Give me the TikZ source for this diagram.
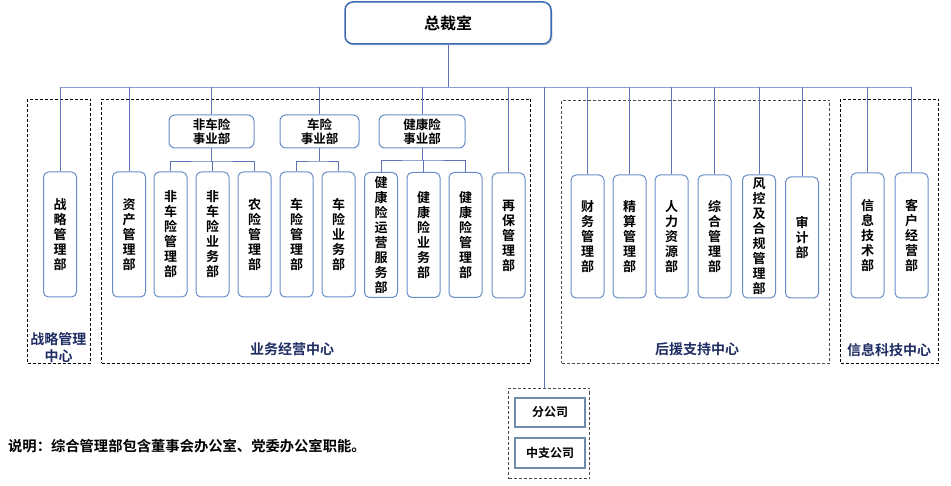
\documentclass[tikz,border=0pt]{standalone}
\usepackage{fontspec}
\setmainfont{Noto Sans CJK SC}[BoldFont={Noto Sans CJK SC Bold}]
\usetikzlibrary{shadows}
\definecolor{bline}{RGB}{95,115,185}
\definecolor{busc}{RGB}{140,160,215}
\definecolor{bbord}{RGB}{105,140,200}
\definecolor{topbord}{RGB}{60,105,180}
\definecolor{navy}{RGB}{31,45,100}
\definecolor{brbord}{RGB}{110,140,170}
\begin{document}
\begin{tikzpicture}[x=1pt,y=-1pt,
  conn/.style={draw=bline, line width=0.8pt},
  vbox/.style={draw=bbord, line width=1pt, rounded corners=5pt, minimum width=33pt, minimum height=125pt, inner sep=0pt, align=center, font=\bfseries\fontsize{13}{15}\selectfont},
  sbox/.style={draw=bbord, line width=1pt, rounded corners=6pt, minimum height=33pt, inner sep=0pt, align=center, font=\bfseries\fontsize{12.5}{14.5}\selectfont},
  topbox/.style={draw=topbord, fill=white, line width=1.5pt, rounded corners=8pt, minimum width=206pt, minimum height=42pt, font=\bfseries\fontsize{16}{18}\selectfont, drop shadow={shadow xshift=1.5pt, shadow yshift=-1.5pt, opacity=0.3}},
  grp/.style={draw=black, dash pattern=on 3pt off 2pt, line width=1pt, anchor=north west, inner sep=0pt},
  lab/.style={text=navy, align=center, font=\bfseries\fontsize{14}{17}\selectfont},
  brbox/.style={draw=brbord, line width=1.5pt, minimum width=70pt, minimum height=29pt, inner sep=0pt, font=\bfseries\fontsize{12}{14}\selectfont}
]
\useasboundingbox (0,0) rectangle (951,486);

% groups
\node[grp, minimum width=63pt, minimum height=264pt] (g1) at (27,99) {};
\node[grp, minimum width=429pt, minimum height=264pt] (g2) at (101,99) {};
\node[grp, draw=black!70, minimum width=268pt, minimum height=263pt] (g3) at (561,100) {};
\node[grp, minimum width=98pt, minimum height=264pt] (g4) at (840,99) {};
\node[grp, draw=black!70, minimum width=81pt, minimum height=90pt] (g5) at (508,388) {};

% top
\node[topbox] (top) at (448,23) {总裁室};

% division heads
\node[sbox, minimum width=85pt] (ex1) at (211.5,131.5) {非车险\\事业部};
\node[sbox, minimum width=79pt] (ex2) at (319.5,131.5) {车险\\事业部};
\node[sbox, minimum width=86pt] (ex3) at (422,131.5) {健康险\\事业部};

% vertical boxes
\node[vbox] (zl) at (60,234.5) {战\\略\\管\\理\\部};
\node[vbox] (zc) at (129,234.5) {资\\产\\管\\理\\部};
\node[vbox] (f1) at (170.5,234.5) {非\\车\\险\\管\\理\\部};
\node[vbox] (f2) at (212.5,234.5) {非\\车\\险\\业\\务\\部};
\node[vbox] (f3) at (254.5,234.5) {农\\险\\管\\理\\部};
\node[vbox] (c1) at (296.5,234.5) {车\\险\\管\\理\\部};
\node[vbox] (c2) at (338.5,234.5) {车\\险\\业\\务\\部};
\node[vbox] (h1) at (381,235) {健\\康\\险\\运\\营\\服\\务\\部};
\node[vbox] (h2) at (423.5,235) {健\\康\\险\\业\\务\\部};
\node[vbox] (h3) at (465.5,235) {健\\康\\险\\管\\理\\部};
\node[vbox] (zb) at (508.5,235.5) {再\\保\\管\\理\\部};

\node[vbox, minimum height=123pt] (cw) at (587.5,236.5) {财\\务\\管\\理\\部};
\node[vbox, minimum height=123pt] (js) at (629.5,236.5) {精\\算\\管\\理\\部};
\node[vbox, minimum height=123pt] (rl) at (671.5,236.5) {人\\力\\资\\源\\部};
\node[vbox, minimum height=123pt] (zh) at (714.5,236.5) {综\\合\\管\\理\\部};
\node[vbox, minimum height=123pt] (fk) at (759,236.5) {风\\控\\及\\合\\规\\管\\理\\部};
\node[vbox, minimum height=121pt] (sj) at (802,237.5) {审\\计\\部};

\node[vbox] (xx) at (867.5,235.5) {信\\息\\技\\术\\部};
\node[vbox] (kh) at (911.5,235.5) {客\\户\\经\\营\\部};

% branch boxes
\node[brbox] (fgs) at (550,412.5) {分公司};
\node[brbox, minimum height=30pt] (zgs) at (550,453) {中支公司};

% group labels
\node[lab] (l1) at (58.5,347.5) {战略管理\\中心};
\node[lab] (l2) at (292,349) {业务经营中心};
\node[lab] (l3) at (697,349) {后援支持中心};
\node[lab] (l4) at (889,350) {信息科技中心};

% note
\node[anchor=west, inner sep=0pt, font=\bfseries\fontsize{14.3}{17}\selectfont] (note) at (8,446) {说明：综合管理部包含董事会办公室、党委办公室职能。};

% connectors
\coordinate (busL) at (60,87);
\coordinate (busR) at (911.5,87);
\coordinate (bb) at (544,87);
\draw[conn] (top.south) -- (top.south |- busL);
\draw[conn, draw=busc] (busL) -- (busR);
\foreach \n in {zl,zc,ex1,ex2,ex3,zb,cw,js,rl,zh,fk,sj,xx,kh}
  \draw[conn] (\n.north) -- (\n.north |- busL);
\draw[conn] (bb) -- (bb |- g5.north);

\coordinate (j1) at (211.5,161);
\coordinate (j2) at (319.5,161);
\coordinate (j3) at (422,160);
\draw[conn] (ex1.south) -- (j1);
\draw[conn] (f1.north) |- (j1) -| (f3.north);
\draw[conn] (f2.north) -- (f2.north |- j1);
\draw[conn] (ex2.south) -- (j2);
\draw[conn] (c1.north) |- (j2) -| (c2.north);
\draw[conn] (ex3.south) -- (j3);
\draw[conn] (h1.north) |- (j3) -| (h3.north);
\draw[conn] (h2.north) -- (h2.north |- j3);
\end{tikzpicture}
\end{document}
